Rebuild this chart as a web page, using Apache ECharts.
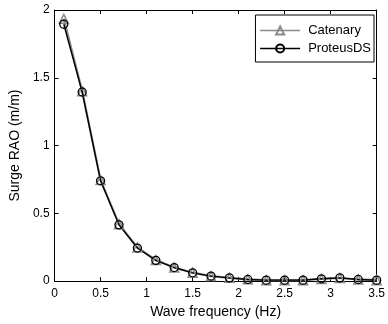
<!DOCTYPE html>
<html><head><meta charset="utf-8">
<script src="https://cdn.jsdelivr.net/npm/echarts@6/dist/echarts.min.js"></script>
<style>html,body{margin:0;padding:0;background:#fff}#c{width:388px;height:324px}</style>
</head><body><div id="c"></div>
<script>
const freq = [0.1,0.3,0.5,0.7,0.9,1.1,1.3,1.5,1.7,1.9,2.1,2.3,2.5,2.7,2.9,3.1,3.3,3.5];
const catenary = [1.935,1.40,0.745,0.42,0.248,0.155,0.10,0.062,0.037,0.024,0.013,0.007,0.007,0.007,0.016,0.023,0.012,0.007];
const proteus  = [1.895,1.395,0.74,0.415,0.244,0.153,0.10,0.061,0.037,0.024,0.012,0.007,0.007,0.007,0.017,0.024,0.012,0.007];
const xTicks = [0,0.5,1,1.5,2,2.5,3,3.5];
const yTicks = [0,0.5,1,1.5,2];

const font = 'Liberation Sans, Arial, sans-serif';
const chart = echarts.init(document.getElementById('c'));
const tick = {show:true, inside:true, length:4, lineStyle:{color:'#000', width:1}};
const line = {show:true, onZero:false, lineStyle:{color:'#000', width:1}};
chart.setOption({
  animation:false,
  grid:{left:53, right:10, top:10, bottom:41},
  legend:{
    right:14, top:15, orient:'vertical', itemGap:3, itemWidth:40, itemHeight:10,
    borderColor:'#000', borderWidth:1, padding:[8,3,6,4], backgroundColor:'#fff',
    lineStyle:{width:1.4},
    textStyle:{fontFamily:font, fontSize:13, color:'#000', padding:[0,0,0,3], lineHeight:15},
    data:['Catenary','ProteusDS']
  },
  xAxis:[{
    type:'value', min:0, max:3.5, interval:0.5, position:'bottom',
    name:'Wave frequency (Hz)', nameLocation:'middle', nameGap:22,
    nameTextStyle:{fontFamily:font, fontSize:14, color:'#000'},
    axisLine:line, axisTick:tick, splitLine:{show:false},
    axisLabel:{fontFamily:font, fontSize:12, color:'#000', margin:7,
      formatter:v=>xTicks.includes(v)?String(v):''}
  },{
    type:'value', min:0, max:3.5, interval:0.5, position:'top',
    axisLine:line, axisTick:tick, axisLabel:{show:false}, splitLine:{show:false}
  }],
  yAxis:[{
    type:'value', min:0, max:2, interval:0.5, position:'left',
    name:'Surge RAO (m/m)', nameLocation:'middle', nameGap:26,
    nameTextStyle:{fontFamily:font, fontSize:14, color:'#000'},
    axisLine:line, axisTick:tick, splitLine:{show:false},
    axisLabel:{fontFamily:font, fontSize:12, color:'#000', margin:5,
      formatter:v=>yTicks.includes(v)?String(v):''}
  },{
    type:'value', min:0, max:2, interval:0.5, position:'right',
    axisLine:line, axisTick:tick, axisLabel:{show:false}, splitLine:{show:false}
  }],
  series:[{
    name:'Catenary', type:'line', data:freq.map((f,i)=>[f,catenary[i]]),
    symbol:'triangle', symbolSize:9,
    lineStyle:{color:'#8a8a8a', width:2.2},
    itemStyle:{color:'rgba(255,255,255,0)', borderColor:'#8a8a8a', borderWidth:1.5}
  },{
    name:'ProteusDS', type:'line', data:freq.map((f,i)=>[f,proteus[i]]),
    symbol:'circle', symbolSize:8,
    lineStyle:{color:'#000', width:1.4},
    itemStyle:{color:'rgba(255,255,255,0)', borderColor:'#000', borderWidth:1.3}
  }]
});
</script></body></html>
